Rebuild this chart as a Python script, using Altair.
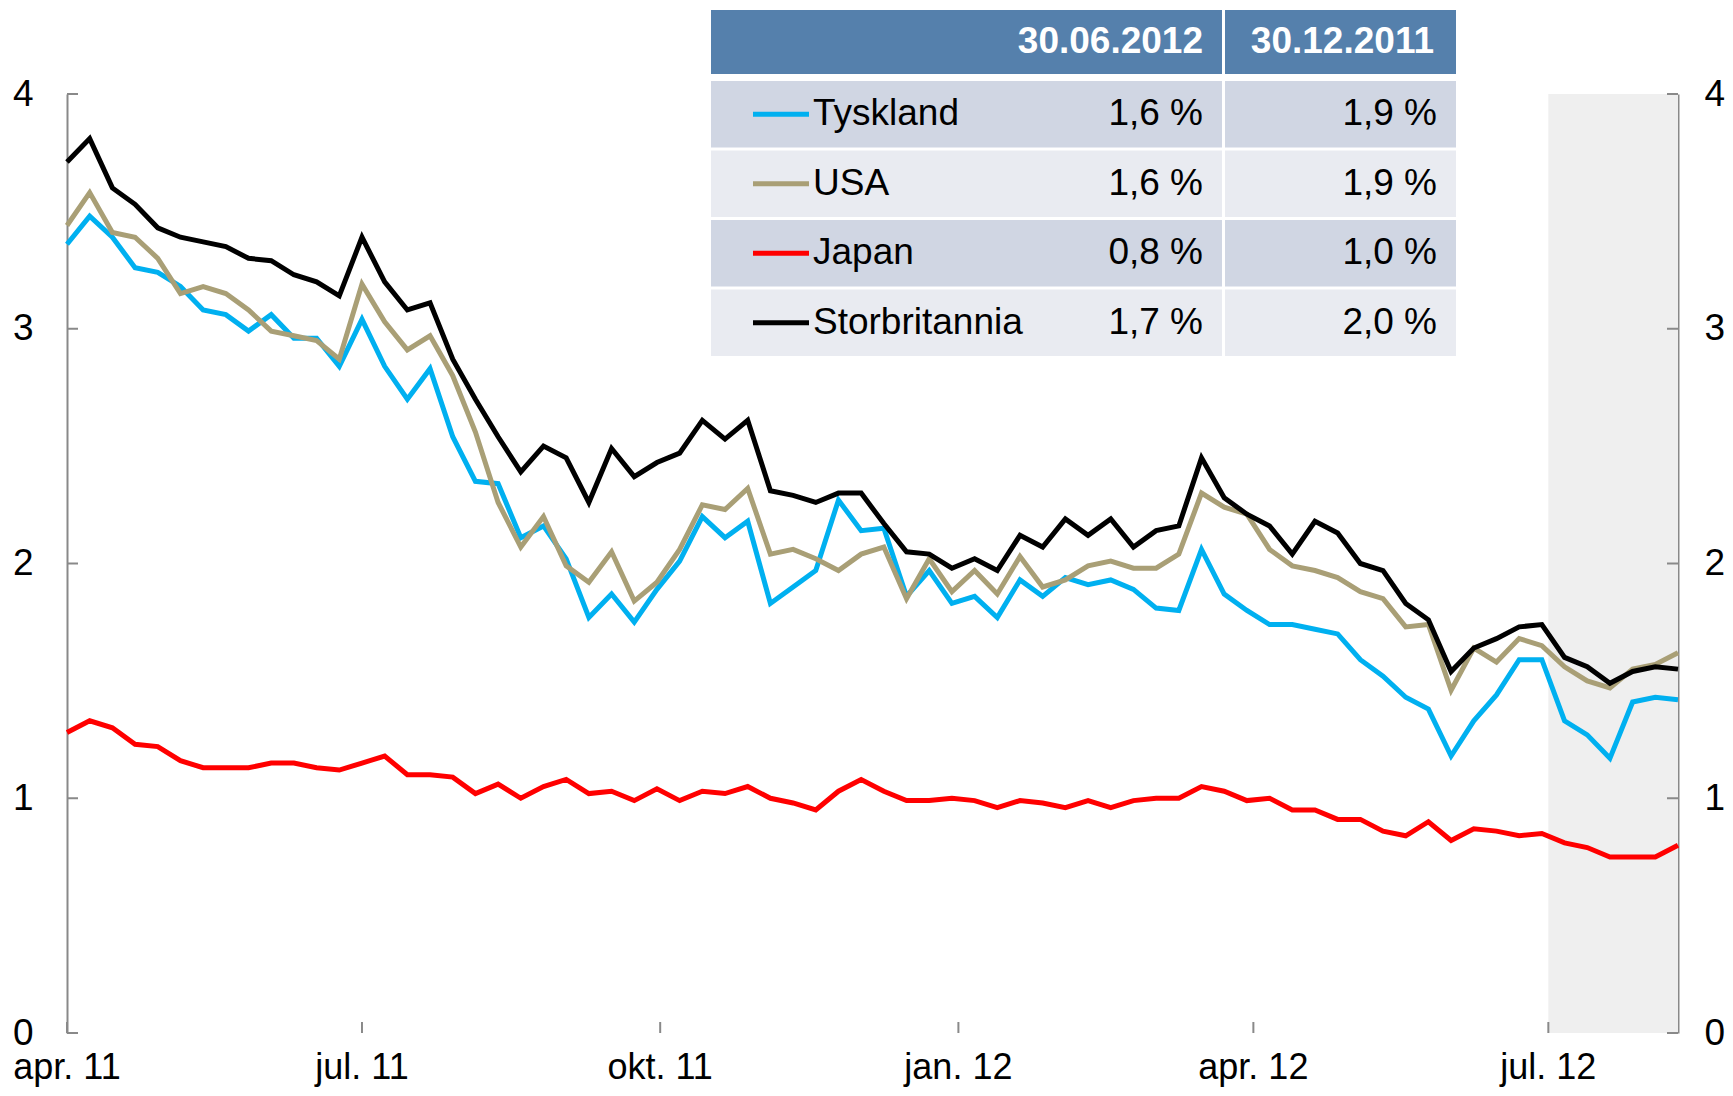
import altair as alt
import pandas as pd

# ---------------- data ----------------
start_date = "2011-04-01"
n_weeks = 72

tyskland = [3.36, 3.48, 3.39, 3.26, 3.24, 3.18, 3.08, 3.06, 2.99, 3.06,
            2.96, 2.96, 2.84, 3.04, 2.84, 2.70, 2.83, 2.54, 2.35, 2.34,
            2.11, 2.16, 2.02, 1.77, 1.87, 1.75, 1.89, 2.01, 2.20, 2.11,
            2.18, 1.83, 1.90, 1.97, 2.27, 2.14, 2.15, 1.86, 1.97, 1.83,
            1.86, 1.77, 1.93, 1.86, 1.94, 1.91, 1.93, 1.89, 1.81, 1.80,
            2.06, 1.87, 1.80, 1.74, 1.74, 1.72, 1.70, 1.59, 1.52, 1.43,
            1.38, 1.18, 1.33, 1.44, 1.59, 1.59, 1.33, 1.27, 1.17, 1.41,
            1.43, 1.42]

usa = [3.44, 3.58, 3.41, 3.39, 3.30, 3.15, 3.18, 3.15, 3.08, 2.99,
       2.97, 2.95, 2.87, 3.19, 3.03, 2.91, 2.97, 2.80, 2.56, 2.26,
       2.07, 2.20, 1.99, 1.92, 2.05, 1.84, 1.92, 2.06, 2.25, 2.23,
       2.32, 2.04, 2.06, 2.02, 1.97, 2.04, 2.07, 1.85, 2.02, 1.88,
       1.97, 1.87, 2.03, 1.90, 1.93, 1.99, 2.01, 1.98, 1.98, 2.04,
       2.30, 2.24, 2.21, 2.06, 1.99, 1.97, 1.94, 1.88, 1.85, 1.73,
       1.74, 1.46, 1.64, 1.58, 1.68, 1.65, 1.56, 1.50, 1.47, 1.55,
       1.57, 1.62]

japan = [1.28, 1.33, 1.30, 1.23, 1.22, 1.16, 1.13, 1.13, 1.13, 1.15,
         1.15, 1.13, 1.12, 1.15, 1.18, 1.10, 1.10, 1.09, 1.02, 1.06,
         1.00, 1.05, 1.08, 1.02, 1.03, 0.99, 1.04, 0.99, 1.03, 1.02,
         1.05, 1.00, 0.98, 0.95, 1.03, 1.08, 1.03, 0.99, 0.99, 1.00,
         0.99, 0.96, 0.99, 0.98, 0.96, 0.99, 0.96, 0.99, 1.00, 1.00,
         1.05, 1.03, 0.99, 1.00, 0.95, 0.95, 0.91, 0.91, 0.86, 0.84,
         0.90, 0.82, 0.87, 0.86, 0.84, 0.85, 0.81, 0.79, 0.75, 0.75,
         0.75, 0.80]

storbritannia = [3.71, 3.81, 3.60, 3.53, 3.43, 3.39, 3.37, 3.35, 3.30, 3.29,
                 3.23, 3.20, 3.14, 3.39, 3.20, 3.08, 3.11, 2.87, 2.70, 2.54,
                 2.39, 2.50, 2.45, 2.26, 2.49, 2.37, 2.43, 2.47, 2.61, 2.53,
                 2.61, 2.31, 2.29, 2.26, 2.30, 2.30, 2.17, 2.05, 2.04, 1.98,
                 2.02, 1.97, 2.12, 2.07, 2.19, 2.12, 2.19, 2.07, 2.14, 2.16,
                 2.45, 2.28, 2.21, 2.16, 2.04, 2.18, 2.13, 2.00, 1.97, 1.83,
                 1.76, 1.54, 1.64, 1.68, 1.73, 1.74, 1.60, 1.56, 1.49, 1.54,
                 1.56, 1.55]

series_names = ["Tyskland", "USA", "Japan", "Storbritannia"]
series_colors = ["#00B0F0", "#A99F76", "#FF0000", "#000000"]
header_labels = ["30.06.2012", "30.12.2011"]
jun_values = ["1,6 %", "1,6 %", "0,8 %", "1,7 %"]
dec_values = ["1,9 %", "1,9 %", "1,0 %", "2,0 %"]

tick_dates = ["2011-04-01", "2011-07-01", "2011-10-01", "2012-01-01", "2012-04-01", "2012-07-01"]
tick_labels = ["apr. 11", "jul. 11", "okt. 11", "jan. 12", "apr. 12", "jul. 12"]
y_ticks = [0, 1, 2, 3, 4]
shade_start = "2012-07-01"

# ---------------- layout / style ----------------
W, H = 1611, 939
FONT = "Liberation Sans"
FS = 37
XFS = 36
AXIS_GREY = "#898989"
TICK_LEN = 11
LINE_W = 5
XLABEL_DY = 46   # distance from x axis line to the label baseline


def to_ms(d):
    return int(pd.Timestamp(d).value // 10**6)


dates = pd.date_range(start_date, periods=n_weeks, freq="7D")
date_ms = [to_ms(d) for d in dates]
d0, d1 = date_ms[0], date_ms[-1]
tick_ms = [to_ms(d) for d in tick_dates]

df = pd.DataFrame({"date": date_ms, "Tyskland": tyskland, "USA": usa,
                   "Japan": japan, "Storbritannia": storbritannia})

xscale = alt.Scale(type="utc", domain=[d0, d1])
yscale = alt.Scale(domain=[0, 4], nice=False, zero=False)

# x axis: domain line only; tick labels drawn as text at the tick dates
x_axis = alt.Axis(values=tick_ms, labels=False, ticks=False, tickSize=0,
                  grid=False, title=None, domainColor=AXIS_GREY, domainWidth=2)

# shaded area
shade_df = pd.DataFrame({"s": [to_ms(shade_start)], "e": [d1]})
shade = alt.Chart(shade_df).mark_rect(color="#EFEFEF").encode(
    x=alt.X("s:T", scale=xscale, axis=None),
    x2="e:T",
    y=alt.value(0), y2=alt.value(H))

# lines
lines = []
for i, (name, col) in enumerate(zip(series_names, series_colors)):
    lines.append(alt.Chart(df).mark_line(color=col, strokeWidth=LINE_W, strokeJoin="miter").encode(
        x=alt.X("date:T", scale=xscale, axis=x_axis if i == 0 else None),
        y=alt.Y(f"{name}:Q", scale=yscale, axis=None)))

# axes with inward ticks
ydf = pd.DataFrame({"v": y_ticks})
left_ticks = alt.Chart(ydf).mark_rule(color=AXIS_GREY, strokeWidth=2).encode(
    y=alt.Y("v:Q", scale=yscale,
            axis=alt.Axis(orient="left", values=y_ticks, ticks=False, tickSize=0, grid=False,
                          title=None, domainColor=AXIS_GREY, domainWidth=2,
                          labelFont=FONT, labelFontSize=FS, labelColor="black",
                          labelPadding=34)),
    x=alt.value(0), x2=alt.value(TICK_LEN))
right_ticks = alt.Chart(ydf).mark_rule(color=AXIS_GREY, strokeWidth=2).encode(
    y=alt.Y("v:Q", scale=yscale,
            axis=alt.Axis(orient="right", values=y_ticks, ticks=False, tickSize=0, grid=False,
                          title=None, domainColor=AXIS_GREY, domainWidth=2,
                          labelFont=FONT, labelFontSize=FS, labelColor="black",
                          labelPadding=26)),
    x=alt.value(W - TICK_LEN), x2=alt.value(W))
xdf = pd.DataFrame({"t": tick_ms, "lab": tick_labels})
x_ticks = alt.Chart(xdf).mark_rule(color=AXIS_GREY, strokeWidth=2).encode(
    x=alt.X("t:T", scale=xscale, axis=None),
    y=alt.value(H - TICK_LEN), y2=alt.value(H))
x_labels = alt.Chart(xdf).mark_text(align="center", baseline="alphabetic", font=FONT,
                                    fontSize=XFS, color="black").encode(
    x=alt.X("t:T", scale=xscale, axis=None),
    y=alt.value(H + XLABEL_DY),
    text="lab:N")

# ---------------- table (legend) ----------------
COL = [644, 1155, 1158, 1389]
HEAD_Y = (-84, -20)
ROW_Y0, ROW_PITCH, ROW_H = -13, 69.5, 66.5
HEAD_FILL = "#5580AC"
ROW_FILLS = ["#D0D6E3", "#E9EBF1"]

cells = []
for (xa, xb) in [(COL[0], COL[1]), (COL[2], COL[3])]:
    cells.append({"x": xa, "x2": xb, "y": HEAD_Y[0], "y2": HEAD_Y[1], "fill": HEAD_FILL})
    for r in range(len(series_names)):
        ya = ROW_Y0 + r * ROW_PITCH
        cells.append({"x": xa, "x2": xb, "y": ya, "y2": ya + ROW_H, "fill": ROW_FILLS[r % 2]})
cells_df = pd.DataFrame(cells)
table_cells = alt.Chart(cells_df).mark_rect().encode(
    x=alt.X("x:Q", scale=None, axis=None), x2="x2:Q",
    y=alt.Y("y:Q", scale=None, axis=None), y2="y2:Q",
    color=alt.Color("fill:N", scale=None, legend=None))

row_centers = [ROW_Y0 + r * ROW_PITCH + ROW_H / 2 for r in range(len(series_names))]
sw_df = pd.DataFrame({"y": row_centers, "c": series_colors, "x": [686] * 4, "x2": [742] * 4})
swatches = alt.Chart(sw_df).mark_rule(strokeWidth=5).encode(
    x=alt.X("x:Q", scale=None, axis=None), x2="x2:Q",
    y=alt.Y("y:Q", scale=None, axis=None),
    color=alt.Color("c:N", scale=None, legend=None))

names_df = pd.DataFrame({"t": series_names, "y": row_centers, "x": [746] * 4})
names_txt = alt.Chart(names_df).mark_text(align="left", baseline="middle", font=FONT,
                                          fontSize=FS, color="black").encode(
    x=alt.X("x:Q", scale=None, axis=None), y=alt.Y("y:Q", scale=None, axis=None), text="t:N")

vals_df = pd.DataFrame({"t": jun_values + dec_values, "y": row_centers * 2,
                        "x": [1136] * 4 + [1370] * 4})
vals_txt = alt.Chart(vals_df).mark_text(align="right", baseline="middle", font=FONT,
                                        fontSize=FS, color="black").encode(
    x=alt.X("x:Q", scale=None, axis=None), y=alt.Y("y:Q", scale=None, axis=None), text="t:N")

head_df = pd.DataFrame({"t": header_labels, "y": [(HEAD_Y[0] + HEAD_Y[1]) / 2] * 2,
                        "x": [1136, 1367]})
head_txt = alt.Chart(head_df).mark_text(align="right", baseline="middle", font=FONT,
                                        fontSize=FS, fontWeight="bold", color="white").encode(
    x=alt.X("x:Q", scale=None, axis=None), y=alt.Y("y:Q", scale=None, axis=None), text="t:N")

chart = alt.layer(
    shade, *lines, left_ticks, right_ticks, x_ticks, x_labels,
    table_cells, swatches, names_txt, vals_txt, head_txt
).resolve_scale(y="independent").properties(
    width=W, height=H,
    autosize=alt.AutoSizeParams(type="none"),
    padding={"left": 59, "top": 86, "right": 47, "bottom": 55},
    background="white"
).configure_view(stroke=None)

chart.save("out.html", embed_options={"renderer": "svg", "actions": False})
